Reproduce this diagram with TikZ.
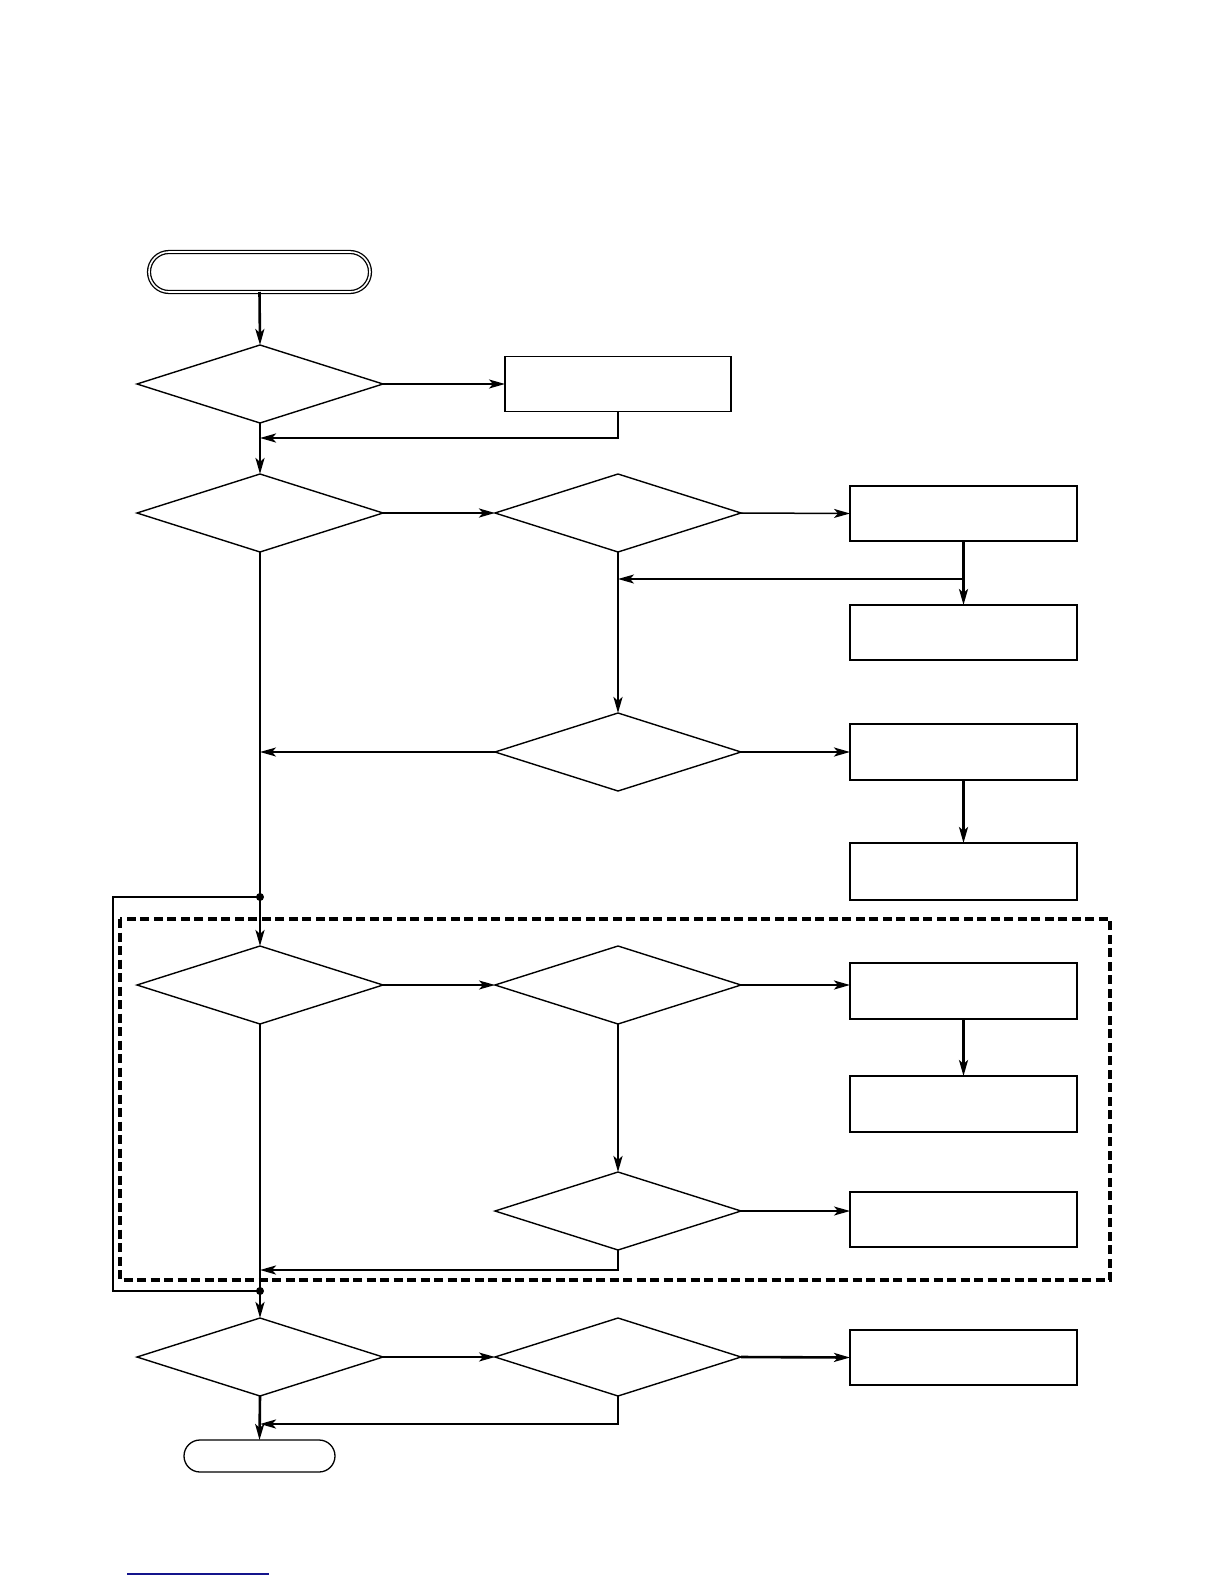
\documentclass[tikz,border=0pt]{standalone}
\usetikzlibrary{shapes.geometric,arrows.meta}
\begin{document}
\begin{tikzpicture}[x=1pt,y=-1pt,
  dec/.style={draw,diamond,line width=1.4pt,minimum width=246pt,minimum height=78pt,inner sep=0pt,outer sep=0pt},
  procbox/.style={draw,rectangle,line width=1.4pt,minimum width=226pt,minimum height=55pt,inner sep=0pt,outer sep=0pt},
  thin arr/.style={line width=1.5pt,-{Stealth[length=16pt,width=9pt,inset=4pt]}},
  thick arr/.style={line width=2.6pt,-{Stealth[length=16pt,width=9pt,inset=4pt]}},
  thickline/.style={line width=2.6pt},
  thinline/.style={line width=1.5pt},
  jdot/.style={circle,fill=black,inner sep=0pt,minimum size=8pt}]
\useasboundingbox (0,0) rectangle (1224,1584);
\fill[white] (0,0) rectangle (1224,1584);

% terminals
\node[draw,rectangle,rounded corners=20pt,line width=1.3pt,double,double distance=1.6pt,minimum width=221pt,minimum height=40pt,inner sep=0pt,outer sep=0pt] (start) at (259.5,272) {};
\node[draw,rectangle,rounded corners=16pt,line width=1.3pt,minimum width=151pt,minimum height=32pt,inner sep=0pt,outer sep=0pt] (stop) at (259.5,1456) {};

% decisions
\node[dec] (d1) at (260,384) {};
\node[dec] (d2) at (260,513) {};
\node[dec] (d3) at (618,513) {};
\node[dec] (d4) at (618,752) {};
\node[dec] (d5) at (260,985) {};
\node[dec] (d6) at (618,985) {};
\node[dec] (d7) at (618,1211) {};
\node[dec] (d8) at (260,1357) {};
\node[dec] (d9) at (618,1357) {};

% process boxes
\node[procbox] (bA) at (618,384) {};
\node[procbox,minimum width=227pt] (bB) at (963.5,513.5) {};
\node[procbox,minimum width=227pt] (bC) at (963.5,632.5) {};
\node[procbox,minimum width=227pt,minimum height=56pt] (bD) at (963.5,752) {};
\node[procbox,minimum width=227pt,minimum height=57pt] (bE) at (963.5,871.5) {};
\node[procbox,minimum width=227pt,minimum height=56pt] (bF) at (963.5,991) {};
\node[procbox,minimum width=227pt,minimum height=56pt] (bG) at (963.5,1104) {};
\node[procbox,minimum width=227pt] (bH) at (963.5,1219.5) {};
\node[procbox,minimum width=227pt] (bI) at (963.5,1357.5) {};

% dashed frame
\draw[line width=3.2pt,dash pattern=on 9pt off 4.5pt] (120,919) rectangle (1110,1280);

% junctions
\coordinate (j1) at (260,897);
\coordinate (j2) at (260,1291);
\coordinate (cA) at (260,438);
\coordinate (cB) at (618,579);
\coordinate (cD4) at (260,752);
\coordinate (cD7) at (260,1270);
\coordinate (cD9) at (260,1424);

% connectors
\draw[thick arr] (start.south) -- (d1.north);
\draw[thin arr] (d1.east) -- (bA.west);
\draw[thick arr] (bA.south) |- (cA);
\draw[thick arr] (d1.south) -- (d2.north);
\draw[thick arr] (d2.east) -- (d3.west);
\draw[thin arr] (d3.east) -- (bB.west);
\draw[thick arr] (bB.south) -- (bC.north);
\draw[thin arr] (bB.south |- cB) -- (cB);
\draw[thick arr] (d3.south) -- (d4.north);
\draw[thin arr] (d4.west) -- (cD4);
\draw[thick arr] (d4.east) -- (bD.west);
\draw[thick arr] (bD.south) -- (bE.north);
\draw[thickline] (d2.south) -- (j1);
\draw[thick arr] (j1) -- (d5.north);
\draw[line width=1.8pt] (j1) -- (113,897) -- (113,1291) -- (j2);
\draw[thin arr] (d5.east) -- (d6.west);
\draw[thick arr] (d6.east) -- (bF.west |- d6.east);
\draw[thick arr] (bF.south) -- (bG.north);
\draw[thick arr] (d6.south) -- (d7.north);
\draw[thin arr] (d7.east) -- (bH.west |- d7.east);
\draw[thick arr] (d7.south) |- (cD7);
\draw[thickline] (d5.south) -- (j2);
\draw[thick arr] (j2) -- (d8.north);
\draw[thin arr] (d8.east) -- (d9.west);
\draw[thick arr] (d9.east) -- (bI.west);
\draw[thick arr] (d9.south) |- (cD9);
\draw[thick arr] (d8.south) -- (stop.north);

\node[jdot] (dot1) at (j1) {};
\node[jdot] (dot2) at (j2) {};

% blue rule at the bottom
\draw[line width=1.8pt,color={rgb,255:red,20;green,20;blue,140}] (127,1574) -- (269,1574);
\end{tikzpicture}
\end{document}
